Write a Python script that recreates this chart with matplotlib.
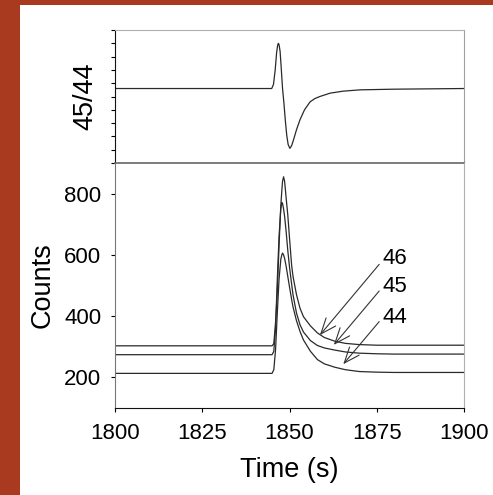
import matplotlib.pyplot as plt
from matplotlib.patches import Rectangle

plt.rcParams.update(
    {
        "font.family": ["Liberation Sans", "DejaVu Sans"],
        "font.size": 16,
        "xtick.direction": "out",
        "ytick.direction": "out",
        "xtick.major.size": 3,
        "ytick.major.size": 3,
        "xtick.major.width": 0.8,
        "ytick.major.width": 0.8,
    }
)

# ---- isotope ratio trace (upper panel) ----
t_ratio = [1800, 1844.9, 1845.4, 1845.9, 1846.3, 1846.6, 1846.8, 1847.0, 1847.3,
           1847.6, 1848.0, 1848.4, 1848.8, 1849.2, 1849.6, 1850.1, 1850.6,
           1851.1, 1852.0, 1853.0, 1854.3, 1855.9, 1857.3, 1858.7, 1861.6,
           1865.3, 1870.2, 1880, 1900]
ratio_45_44 = [1.312, 1.312, 1.318, 1.340, 1.366, 1.377, 1.380, 1.378, 1.368,
               1.345, 1.312, 1.290, 1.264, 1.242, 1.228, 1.222, 1.226,
               1.234, 1.250, 1.265, 1.280, 1.292, 1.297, 1.300, 1.305,
               1.308, 1.310, 1.311, 1.312]

# ---- ion counts (lower panel) ----
t_counts = [1800, 1845.0, 1845.5, 1846.0, 1846.5, 1847.0, 1847.5, 1847.8, 1848.0,
            1848.3, 1848.6, 1849.0, 1849.5, 1850.0, 1850.6, 1851, 1852, 1853,
            1854, 1856, 1858, 1860, 1863, 1866, 1870, 1875, 1880, 1900]
counts_46 = [303, 303, 310, 380, 480, 630, 760, 810, 840,
             855, 840, 790, 731, 655, 567, 530, 470, 426,
             398, 368, 345, 330, 318, 311, 307, 305, 305, 305]
counts_45 = [274, 274, 285, 360, 520, 660, 750, 771, 768,
             750, 725, 680, 615, 560, 505, 470, 410, 372,
             348, 320, 304, 296, 289, 283, 279, 277, 276, 276]
counts_44 = [213, 213, 225, 290, 410, 520, 585, 600, 606,
             600, 588, 565, 530, 495, 455, 430, 385, 350,
             322, 285, 258, 244, 233, 225, 219, 217, 216, 216]

# mass labels with their pointer arrows (tail near the label, tip at the trace)
mass_labels = ["46", "45", "44"]
label_xy = [(1876.7, 587), (1876.7, 498), (1876.7, 397)]
arrow_tail = [(1875.7, 569), (1875.7, 482), (1875.7, 382)]
arrow_tip = [(1858.7, 338), (1862.7, 306), (1865.4, 243)]

x_ticks = [1800, 1825, 1850, 1875, 1900]
count_ticks = [200, 400, 600, 800]

LINE = "#2a2a2a"
LABEL_SIZE = 19.5

fig = plt.figure(figsize=(4.93, 4.95), dpi=100, facecolor="#a9391f")
# white panel inside the coloured frame
fig.patches.append(Rectangle((20 / 493, 0), 473 / 493, 490 / 495,
                             transform=fig.transFigure, facecolor="white",
                             edgecolor="none", zorder=-10))

ax1 = fig.add_axes([0.2333, 0.6707, 0.7079, 0.2687])
ax2 = fig.add_axes([0.2333, 0.1758, 0.7079, 0.4949], sharex=ax1)
for ax in (ax1, ax2):
    ax.set_facecolor("none")

# upper panel
ax1.plot(t_ratio, ratio_45_44, color=LINE, lw=0.9)
ax1.set_ylim(1.20, 1.40)
ax1.set_yticks([1.20 + 0.02 * i for i in range(11)])
ax1.tick_params(axis="y", labelleft=False, length=3)
ax1.tick_params(axis="x", bottom=False, labelbottom=False)
ax1.set_ylabel("45/44", fontsize=LABEL_SIZE)
ax1.yaxis.set_label_coords(-0.047, 0.5)
ax1.spines["left"].set_color("#111111")
ax1.spines["top"].set_color("#b0b0b0")
ax1.spines["right"].set_color("#a0a0a0")
ax1.spines["bottom"].set_color("#666666")
ax1.spines["bottom"].set_linewidth(1.2)

# lower panel
for vals in (counts_46, counts_45, counts_44):
    ax2.plot(t_counts, vals, color=LINE, lw=0.9)
ax2.set_xlim(1800, 1900)
ax2.set_ylim(100, 900)
ax2.set_xticks(x_ticks)
ax2.set_yticks(count_ticks)
ax2.tick_params(axis="x", pad=8, labelsize=16)
ax2.tick_params(axis="y", pad=7, labelsize=16)
ax2.set_xlabel("Time (s)", fontsize=LABEL_SIZE)
ax2.xaxis.set_label_coords(0.5, -0.2)
ax2.set_ylabel("Counts", fontsize=LABEL_SIZE)
ax2.yaxis.set_label_coords(-0.17, 0.5)
ax2.spines["top"].set_visible(False)
ax2.spines["left"].set_color("#777777")
ax2.spines["right"].set_color("#b0b0b0")
ax2.spines["bottom"].set_color("#111111")

for lab, pos, tail, tip in zip(mass_labels, label_xy, arrow_tail, arrow_tip):
    ax2.text(pos[0], pos[1], lab, fontsize=16, ha="left", va="center")
    ax2.annotate("", xy=tip, xytext=tail,
                 arrowprops=dict(arrowstyle="->,head_length=0.75,head_width=0.3",
                                 color="#333333", lw=0.8,
                                 shrinkA=0, shrinkB=0, mutation_scale=15))

fig.savefig("out.png", dpi=100, facecolor=fig.get_facecolor())
